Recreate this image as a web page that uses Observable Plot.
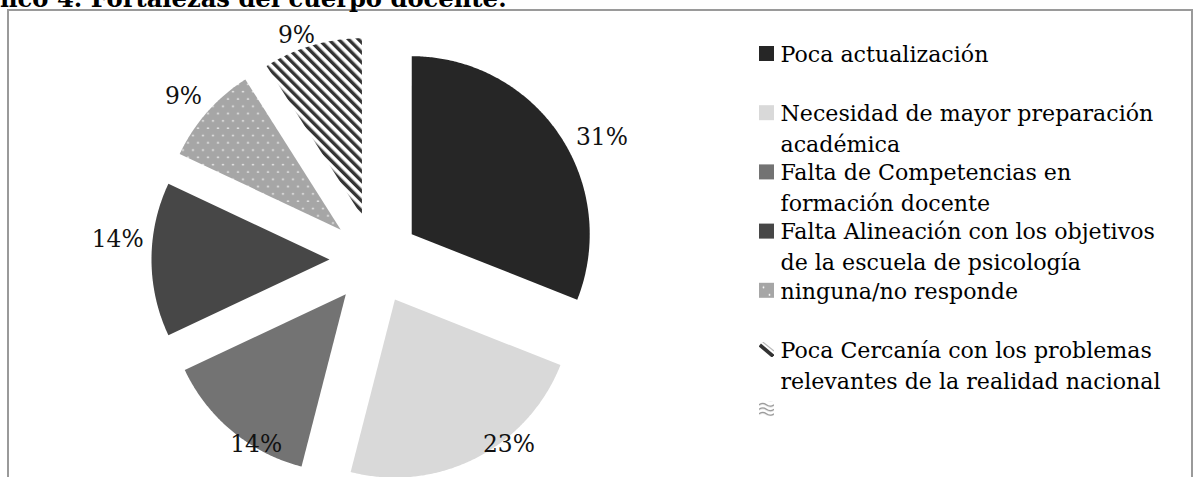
<!DOCTYPE html>
<html><head><meta charset="utf-8">
<script src="https://cdn.jsdelivr.net/npm/d3@7"></script>
<script src="https://cdn.jsdelivr.net/npm/@observablehq/plot@0.6"></script>
<style>
html,body{margin:0;padding:0;background:#fff;overflow:hidden}
#wrap{position:relative;width:1195px;height:477px;overflow:hidden;background:#fff}
#frame{position:absolute;left:7px;top:9px;width:1186px;height:520px;border:2px solid #9a9a9a;box-sizing:border-box;pointer-events:none}
#chart{position:absolute;left:0;top:0}
#title{position:absolute;left:0;top:0}
</style></head><body>
<div id="wrap"><div id="frame"></div><div id="chart"></div><svg id="title" width="1195" height="20"></svg></div>
<script>
// ---------------- data ----------------
const titleText = "fico 4. Fortalezas del cuerpo docente:";
const categories = [
  "Poca actualización",
  "Necesidad de mayor preparación académica",
  "Falta de Competencias en formación docente",
  "Falta Alineación con los objetivos de la escuela de psicología",
  "ninguna/no responde",
  "Poca Cercanía con los problemas relevantes de la realidad nacional",
  ""
];
const legendLines = [
  ["Poca actualización"],
  ["Necesidad de mayor preparación", "académica"],
  ["Falta de Competencias en", "formación docente"],
  ["Falta Alineación con los objetivos", "de la escuela de psicología"],
  ["ninguna/no responde"],
  ["Poca Cercanía con los problemas", "relevantes de la realidad nacional"],
  [""]
];
const values = [31, 23, 14, 14, 9, 9, 0];
const valueLabels = ["31%", "23%", "14%", "14%", "9%", "9%", ""];

// ---------------- styles / layout ----------------
const sliceFills  = ["#262626", "#d9d9d9", "#737373", "#474747", "url(#pDots)", "url(#pStripes)", "url(#pWaves)"];
const legendFills = ["#262626", "#d9d9d9", "#737373", "#474747", "url(#pDotsL)", "url(#pStripesL)", "url(#pWavesL)"];
const W = 1195, H = 477;
const CX = 374, CY = 259, R = 178, EXPLODE = 45;
const LABEL_PAD = 8, LABEL_YMAX = 444;
const labelShiftDeg = [6, -9, -7, 4.5, -1, -3];
const labelRadialAdj = [0, 0, 0, 0, 0, -8];
const LEG_X = 759, LEG_BOX = 15, LEG_TEXT_X = 780, LEG_Y0 = 62, LEG_STEP = 59.2, LEG_LINE = 31;
const LEG_TEXT_SHIFT = -7;
const FONT = "DejaVu Serif";

// font fitting
const ctx = document.createElement("canvas").getContext("2d");
function w100(text, weight) { ctx.font = `${weight || "normal"} 100px "${FONT}"`; return ctx.measureText(text).width; }
const legendFs = (373 / w100("Necesidad de mayor preparación") * 100 + 380 / w100("relevantes de la realidad nacional") * 100 + 375 / w100("Falta Alineación con los objetivos") * 100) / 3;
const labelFs = 52 / w100("31%") * 100;
const titleFs = 507 / w100(titleText, "bold") * 100;

// ---------------- geometry from values ----------------
const total = d3.sum(values);
let acc = 0;
const slices = values.map((v, i) => {
  const a0 = acc / total * 2 * Math.PI; acc += v;
  const a1 = acc / total * 2 * Math.PI;
  return {i, v, a0, a1, mid: (a0 + a1) / 2};
});
function slicePoints(s) {
  const ox = CX + EXPLODE * Math.sin(s.mid), oy = CY - EXPLODE * Math.cos(s.mid);
  const pts = [{x: ox, y: oy}];
  const n = Math.max(2, Math.ceil((s.a1 - s.a0) / (Math.PI / 360)));
  for (let k = 0; k <= n; k++) {
    const a = s.a0 + (s.a1 - s.a0) * k / n;
    pts.push({x: ox + R * Math.sin(a), y: oy - R * Math.cos(a)});
  }
  pts.push({x: ox, y: oy});
  return pts;
}
const labelRows = slices.filter(s => s.v > 0).map(s => {
  const b = s.mid + labelShiftDeg[s.i] * Math.PI / 180;
  const tw = w100(valueLabels[s.i]) * labelFs / 100, th = labelFs * 0.75;
  let d = EXPLODE + R + LABEL_PAD + Math.abs(Math.sin(b)) * tw / 2 + Math.abs(Math.cos(b)) * th / 2 + labelRadialAdj[s.i];
  if (CY - d * Math.cos(b) > LABEL_YMAX) d = (LABEL_YMAX - CY) / -Math.cos(b);
  return {x: CX + d * Math.sin(b), y: CY - d * Math.cos(b), text: valueLabels[s.i]};
});
const legendRows = categories.map((c, i) => ({
  i, cat: c,
  base: LEG_Y0 + i * LEG_STEP,
  text: legendLines[i].join("\n")
}));

const marks = [];
slices.filter(s => s.v > 0).forEach(s => {
  marks.push(Plot.line(slicePoints(s), {x: "x", y: "y", fill: sliceFills[s.i], stroke: "none", curve: "linear"}));
});
marks.push(Plot.text(labelRows, {x: "x", y: "y", text: "text", fontSize: labelFs, fontFamily: FONT, fill: "#111", textAnchor: "middle", lineAnchor: "middle"}));
legendRows.forEach(r => {
  marks.push(Plot.rect([r], {x1: () => LEG_X, x2: () => LEG_X + LEG_BOX, y1: d => d.base - 16, y2: d => d.base - 1, fill: legendFills[r.i]}));
});
marks.push(Plot.text(legendRows.filter(r => r.cat), {
  x: () => LEG_TEXT_X, y: d => d.base - 0.71 * legendFs + LEG_TEXT_SHIFT, text: "text",
  textAnchor: "start", lineAnchor: "top", lineHeight: LEG_LINE / legendFs,
  fontSize: legendFs, fontFamily: FONT, fill: "#000"
}));

const plot = Plot.plot({
  width: W, height: H, margin: 0,
  x: {domain: [0, W], range: [0, W], axis: null},
  y: {domain: [0, H], range: [0, H], axis: null},
  style: {background: "transparent", overflow: "visible"},
  marks
});

const defs = d3.select(plot).insert("defs", ":first-child");
// dotted pattern
const pd = defs.append("pattern").attr("id", "pDots").attr("patternUnits", "userSpaceOnUse").attr("width", 10).attr("height", 14.6);
pd.append("rect").attr("width", 10).attr("height", 14.6).attr("fill", "#a6a6a6");
pd.append("circle").attr("cx", 2.5).attr("cy", 3.6).attr("r", 0.85).attr("fill", "#fff");
pd.append("circle").attr("cx", 7.5).attr("cy", 10.9).attr("r", 0.85).attr("fill", "#fff");
// striped pattern
const ps = defs.append("pattern").attr("id", "pStripes").attr("patternUnits", "userSpaceOnUse").attr("width", 7).attr("height", 7).attr("patternTransform", "rotate(-45)");
ps.append("rect").attr("width", 7).attr("height", 7).attr("fill", "#fff");
ps.append("rect").attr("width", 3.4).attr("height", 7).attr("fill", "#333");
// waves
const pw = defs.append("pattern").attr("id", "pWaves").attr("patternUnits", "userSpaceOnUse").attr("width", 8).attr("height", 5);
pw.append("rect").attr("width", 8).attr("height", 5).attr("fill", "#fff");
pw.append("path").attr("d", "M0 3 Q2 1 4 3 T8 3").attr("fill", "none").attr("stroke", "#777").attr("stroke-width", 0.8);
// legend variants
const pdl = defs.append("pattern").attr("id", "pDotsL").attr("patternContentUnits", "objectBoundingBox").attr("width", 1).attr("height", 1);
pdl.append("rect").attr("width", 1).attr("height", 1).attr("fill", "#a6a6a6");
pdl.append("circle").attr("cx", 0.3).attr("cy", 0.3).attr("r", 0.06).attr("fill", "#fff");
pdl.append("circle").attr("cx", 0.7).attr("cy", 0.8).attr("r", 0.06).attr("fill", "#fff");
const psl = defs.append("pattern").attr("id", "pStripesL").attr("patternContentUnits", "objectBoundingBox").attr("width", 1).attr("height", 1);
psl.append("rect").attr("width", 1).attr("height", 1).attr("fill", "#fff");
psl.append("line").attr("x1", 0.05).attr("y1", 0.2).attr("x2", 0.95).attr("y2", 0.95).attr("stroke", "#333").attr("stroke-width", 0.25);
psl.append("line").attr("x1", 0.25).attr("y1", 0.0).attr("x2", 1.0).attr("y2", 0.6).attr("stroke", "#bbb").attr("stroke-width", 0.08);
const pwl = defs.append("pattern").attr("id", "pWavesL").attr("patternContentUnits", "objectBoundingBox").attr("width", 1).attr("height", 1);
pwl.append("rect").attr("width", 1).attr("height", 1).attr("fill", "#fff");
[0.25, 0.55, 0.85].forEach(yy => pwl.append("path").attr("d", `M0 ${yy} Q0.25 ${yy - 0.18} 0.5 ${yy} T1 ${yy}`).attr("fill", "none").attr("stroke", "#888").attr("stroke-width", 0.08));

document.getElementById("chart").appendChild(plot);

// title (cropped at the top edge, as in the reference)
d3.select("#title").append("text").attr("x", 0).attr("y", 7).attr("font-family", FONT).attr("font-weight", "bold").attr("font-size", titleFs).attr("fill", "#000").text(titleText);
</script>
</body></html>
